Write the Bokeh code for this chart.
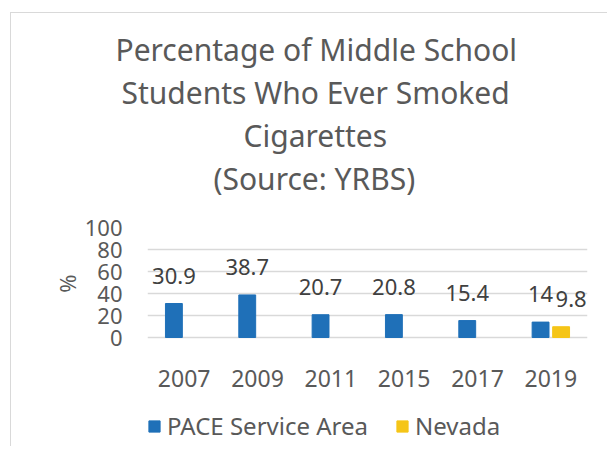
from bokeh.plotting import figure
from bokeh.models import FactorRange, Title, Legend, LegendItem, ColumnDataSource
from bokeh.transform import dodge
from bokeh.embed import file_html
from bokeh.resources import INLINE
from bokeh.core.properties import value

years = ["2007", "2009", "2011", "2015", "2017", "2019"]
pace_values = [30.9, 38.7, 20.7, 20.8, 15.4, 14]
nevada_years = ["2019"]
nevada_values = [9.8]
title_lines = ["Percentage of Middle School", "Students Who Ever Smoked",
               "Cigarettes", "(Source: YRBS)"]
y_ticks = [0, 20, 40, 60, 80, 100]

FONT = "Noto Sans"
GRAY = "#595959"
BLUE = "#1f70b8"
YELLOW = "#f5c518"
# horizontal offsets (px from plot-area left) that centre each title line on the chart
TITLE_OFFSETS = [-32, -26, 96, 66]

pace_src = ColumnDataSource(dict(year=years, val=pace_values,
                                 lab=[f"{v:g}" for v in pace_values]))
nev_src = ColumnDataSource(dict(year=nevada_years, val=nevada_values,
                                lab=[f"{v:g}" for v in nevada_values]))

# plot area extends below zero so the category labels and legend sit inside it
p = figure(x_range=FactorRange(*years), y_range=(-100, 100),
           width=600, frame_width=440, frame_height=220,
           output_backend="svg", toolbar_location=None, title=None,
           min_border_left=136, min_border_right=21, min_border_bottom=0,
           min_border_top=214)
p.margin = (13, 0, 0, 11)
p.styles = {"box-shadow": "-1px -1px 0 0 #d9d9d9"}

p.add_layout(Title(text=" ", text_font_size="24px", standoff=0), "above")
for line, off in reversed(list(zip(title_lines, TITLE_OFFSETS))):
    p.add_layout(Title(text=line, align="left", offset=off, text_font=FONT,
                       text_font_size="30px", text_font_style="normal",
                       text_color=GRAY, standoff=0), "above")

r1 = p.vbar(x=dodge("year", -0.14, range=p.x_range), top="val", bottom=0, width=0.23,
            source=pace_src, fill_color=BLUE, line_color=BLUE)
r2 = p.vbar(x=dodge("year", 0.14, range=p.x_range), top="val", bottom=0, width=0.23,
            source=nev_src, fill_color=YELLOW, line_color=YELLOW)

p.text(x=dodge("year", -0.14, range=p.x_range), y="val", text="lab", source=pace_src,
       text_font=value(FONT), text_font_size="22px", text_color="#404040",
       text_align="center", text_baseline="alphabetic", y_offset=-28)
p.text(x=dodge("year", 0.14, range=p.x_range), y="val", text="lab", source=nev_src,
       text_font=value(FONT), text_font_size="22px", text_color="#404040",
       text_align="center", text_baseline="alphabetic", y_offset=-28, x_offset=10)

# category labels under the zero line
p.text(x="year", y=0, text="year", source=pace_src,
       text_font=value(FONT), text_font_size="23px", text_color=GRAY,
       text_align="center", text_baseline="alphabetic", y_offset=41)
p.xaxis.visible = False

p.yaxis.ticker = y_ticks
p.yaxis.axis_line_color = None
p.yaxis.major_tick_line_color = None
p.yaxis.minor_tick_line_color = None
p.yaxis.major_tick_out = 0
p.yaxis.major_label_text_font = FONT
p.yaxis.major_label_text_font_size = "22px"
p.yaxis.major_label_text_color = GRAY
p.yaxis.major_label_standoff = 25

p.add_layout(Title(text="%", align="right", offset=47, text_font=FONT,
                   text_font_size="22px", text_font_style="normal",
                   text_color=GRAY, standoff=0), "left")

p.xgrid.grid_line_color = None
p.ygrid.grid_line_color = "#d9d9d9"
p.ygrid.grid_line_width = 1.5
p.outline_line_color = None

legend = Legend(items=[LegendItem(label="PACE Service Area", renderers=[r1]),
                       LegendItem(label="Nevada", renderers=[r2])],
                orientation="horizontal", location=(0, 5),
                label_text_font=FONT, label_text_font_size="24px",
                label_text_color=GRAY, glyph_width=14, glyph_height=14,
                spacing=27, label_standoff=6, border_line_color=None,
                background_fill_alpha=0, padding=0, margin=0)
p.add_layout(legend, "center")

open("out.html", "w").write(file_html(p, INLINE))
